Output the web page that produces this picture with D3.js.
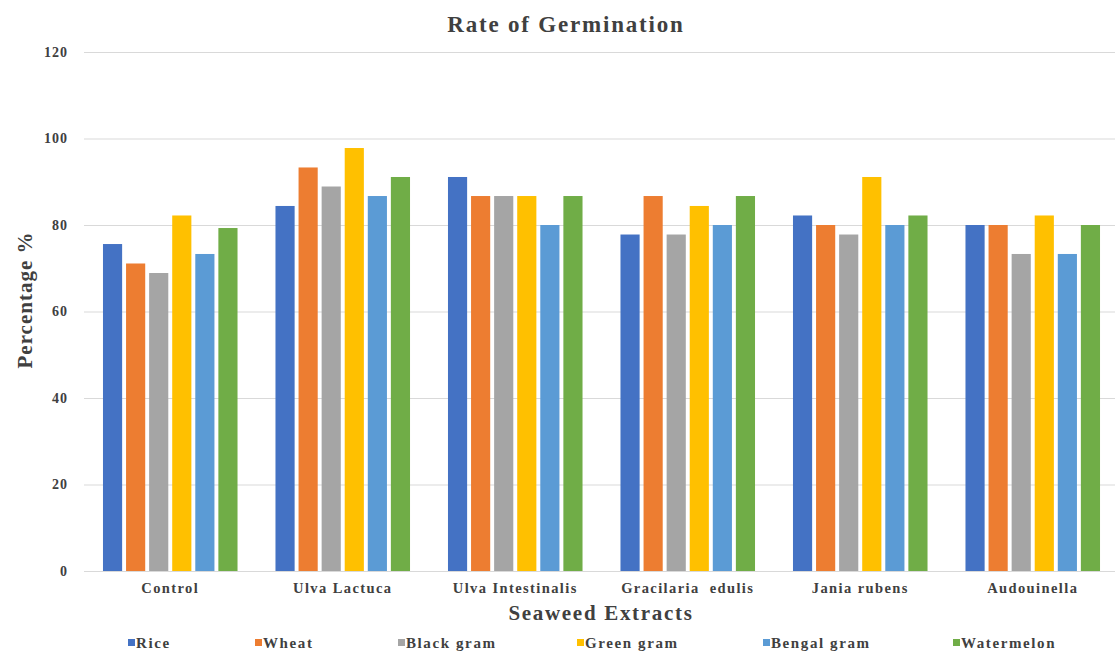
<!DOCTYPE html>
<html>
<head>
<meta charset="utf-8">
<script src="https://cdn.jsdelivr.net/npm/d3@7"></script>
<style>
  html, body { margin: 0; padding: 0; background: #fff; }
  svg text { font-family: "Liberation Serif", "Times New Roman", serif; font-weight: bold; fill: #404040; }
</style>
</head>
<body>
<svg id="chart" width="1115" height="651"></svg>
<script>
// Seaweed extract treatments (x categories)
const categories = ["Control", "Ulva Lactuca", "Ulva Intestinalis", "Gracilaria  edulis", "Jania rubens", "Audouinella"];
// Crops (series)
const seriesNames = ["Rice", "Wheat", "Black gram", "Green gram", "Bengal gram", "Watermelon"];
const seriesColors = ["#4472C4", "#ED7D31", "#A5A5A5", "#FFC000", "#5B9BD5", "#70AD47"];
// Germination rate (%) per crop, one value per treatment
const rice       = [75.6, 84.4, 91.1, 77.8, 82.2, 80.0];
const wheat      = [71.1, 93.3, 86.7, 86.7, 80.0, 80.0];
const blackGram  = [68.9, 88.9, 86.7, 77.8, 77.8, 73.3];
const greenGram  = [82.2, 97.8, 86.7, 84.4, 91.1, 82.2];
const bengalGram = [73.3, 86.7, 80.0, 80.0, 80.0, 73.3];
const watermelon = [79.3, 91.1, 86.7, 86.7, 82.2, 80.0];
const yTicks = [0, 20, 40, 60, 80, 100, 120];

const seriesValues = [rice, wheat, blackGram, greenGram, bengalGram, watermelon];

const svg = d3.select("#chart");
const plot = { left: 84, right: 1119, top: 52, bottom: 571 };

const x0 = d3.scaleBand().domain(categories).range([plot.left, plot.right])
  .paddingInner(0.22).paddingOuter(0.11);
const x1 = d3.scaleBand().domain(seriesNames).range([0, x0.bandwidth()])
  .paddingInner(0.17).paddingOuter(0);
const y = d3.scaleLinear().domain([0, 120]).range([plot.bottom, plot.top]);

// Gridlines and y tick labels
const yAxis = d3.axisLeft(y).tickValues(yTicks).tickSize(-(plot.right - plot.left)).tickPadding(16);
const gy = svg.append("g").attr("transform", `translate(${plot.left},0)`).call(yAxis);
gy.select(".domain").remove();
gy.selectAll(".tick line").attr("stroke", "#d9d9d9").attr("stroke-width", 1.2);
gy.selectAll(".tick text").attr("font-size", 14).attr("x", -16).attr("fill", "#404040")
  .attr("letter-spacing", "1px");

// Bars
const groups = svg.append("g").selectAll("g")
  .data(categories).join("g")
  .attr("transform", d => `translate(${x0(d)},0)`);
groups.selectAll("rect")
  .data((c, ci) => seriesNames.map((s, si) => ({ s, si, v: seriesValues[si][ci] })))
  .join("rect")
  .attr("x", d => x1(d.s))
  .attr("width", x1.bandwidth())
  .attr("y", d => y(d.v))
  .attr("height", d => y(0) - y(d.v))
  .attr("fill", d => seriesColors[d.si]);

// x axis category labels
const xAxis = d3.axisBottom(x0).tickSize(0).tickPadding(12);
const gx = svg.append("g").attr("transform", `translate(0,${plot.bottom})`).call(xAxis);
gx.select(".domain").attr("stroke", "#d9d9d9").attr("stroke-width", 1.2);
gx.selectAll(".tick text").attr("font-size", 14.5).attr("fill", "#404040")
  .attr("letter-spacing", "1.4px").style("white-space", "pre");

// Titles
svg.append("text").attr("x", 566).attr("y", 32).attr("text-anchor", "middle")
  .attr("font-size", 23).attr("letter-spacing", "1.8px").text("Rate of Germination");
svg.append("text").attr("x", 601).attr("y", 620).attr("text-anchor", "middle")
  .attr("font-size", 21).attr("letter-spacing", "1.7px").text("Seaweed Extracts");
svg.append("text").attr("transform", "translate(32,300) rotate(-90)").attr("text-anchor", "middle")
  .attr("font-size", 21).attr("letter-spacing", "1px").text("Percentage %");

// Legend
const legendX = [128, 255, 398, 577, 763, 953];
const legend = svg.append("g").selectAll("g").data(seriesNames).join("g")
  .attr("transform", (d, i) => `translate(${legendX[i]},643)`);
legend.append("rect").attr("x", 0).attr("y", -4).attr("width", 7).attr("height", 7)
  .attr("fill", (d, i) => seriesColors[i]);
legend.append("text").attr("x", 8).attr("y", 5).attr("font-size", 15)
  .attr("letter-spacing", "1.6px").text(d => d);
</script>
</body>
</html>
